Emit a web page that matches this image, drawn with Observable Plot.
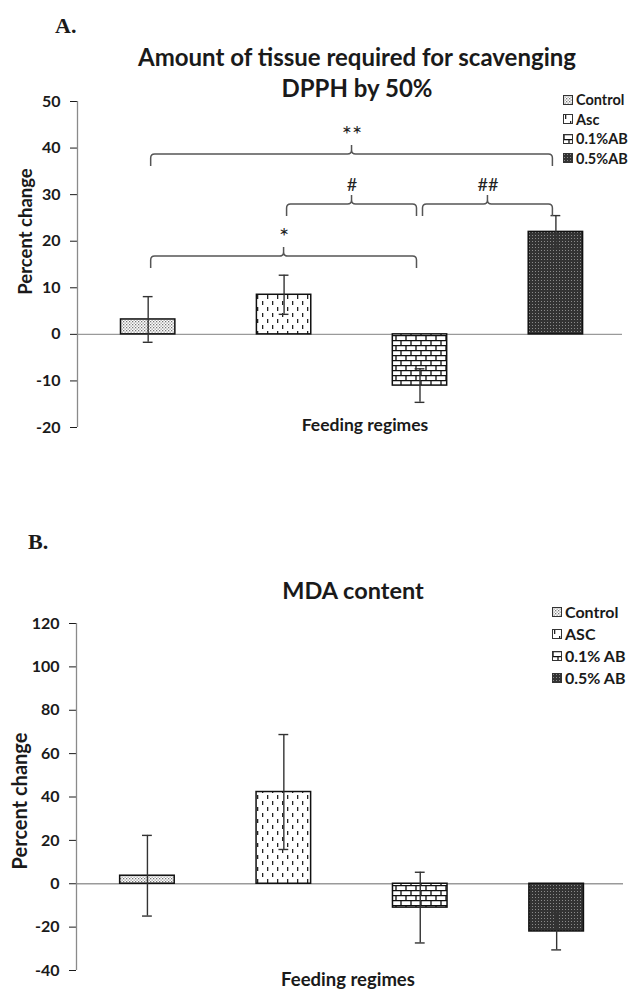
<!DOCTYPE html>
<html>
<head>
<meta charset="utf-8">
<script src="https://cdn.jsdelivr.net/npm/d3@7"></script>
<script src="https://cdn.jsdelivr.net/npm/@observablehq/plot@0.6"></script>
<style>
  html, body { margin: 0; padding: 0; background: #fff; }
  #wrap { position: relative; width: 634px; height: 989px; overflow: hidden; font-family: Lato, "Open Sans", sans-serif; color: #1a1a1a; }
  .abs { position: absolute; z-index: 2; }
  .panel { font-family: "Liberation Serif", serif; font-weight: bold; font-size: 22px; line-height: 22px; }
  .title { font-weight: bold; text-align: center; }
  .legend { font-weight: bold; }
  .legend .item { display: flex; align-items: center; }
  .legend svg { margin-right: 3px; flex: none; }
  .plotbox { position: absolute; left: 0; z-index: 1; }
</style>
</head>
<body>
<svg width="0" height="0" style="position:absolute">
  <defs>
    <pattern id="pCtrl" width="3" height="3" patternUnits="userSpaceOnUse">
      <rect width="3" height="3" fill="#fff"/>
      <rect x="0" y="0" width="1.3" height="1.3" fill="#777"/>
      <rect x="1.5" y="1.5" width="1.3" height="1.3" fill="#999"/>
    </pattern>
    <pattern id="pAsc" width="10" height="12" patternUnits="userSpaceOnUse">
      <rect width="10" height="12" fill="#fff"/>
      <rect x="2" y="1" width="1.3" height="4" fill="#222"/>
      <rect x="7" y="7" width="1.3" height="4" fill="#222"/>
    </pattern>
    <pattern id="pBrick" width="10" height="10" patternUnits="userSpaceOnUse">
      <rect width="10" height="10" fill="#fff"/>
      <path d="M0 0.6H10M0 5.6H10M1 0V5.6M6 5.6V10" stroke="#111" stroke-width="1.3" fill="none"/>
    </pattern>
    <pattern id="pDark" width="3" height="3" patternUnits="userSpaceOnUse">
      <rect width="3" height="3" fill="#333"/>
      <rect x="1" y="1" width="1" height="1" fill="#8a8a8a"/>
    </pattern>
  </defs>
</svg>
<div id="wrap"></div>
<script>
// ---------- data ----------
const groupsA = ["Control", "Asc", "0.1%AB", "0.5%AB"];
const groupsB = ["Control", "ASC", "0.1% AB", "0.5% AB"];
const patterns = ["url(#pCtrl)", "url(#pAsc)", "url(#pBrick)", "url(#pDark)"];

const dpphMean = [3.2, 8.5, -11.0, 22.0];
const dpphErr  = [4.9, 4.2, 3.6, 3.5];
const dpphTicks = [-20, -10, 0, 10, 20, 30, 40, 50];

const mdaMean = [3.7, 42.3, -11.0, -22.0];
const mdaErr  = [18.6, 26.5, 16.3, 8.5];
const mdaTicks = [-40, -20, 0, 20, 40, 60, 80, 100, 120];

// significance brackets (indices of groups), label, level in y units
const compFrom  = [0, 1, 2, 0];
const compTo    = [3, 2, 3, 2];
const compLabel = ["**", "#", "##", "*"];
const compLevel = [38.6, 27.9, 27.9, 16.7];

const titleA = ["Amount of tissue required for scavenging", "DPPH by 50%"];
const titleB = "MDA content";
const yTitle = "Percent change";
const xTitle = "Feeding regimes";

// ---------- helpers ----------
const wrap = document.getElementById("wrap");
function addDiv(cls, css, html) {
  const d = document.createElement("div");
  d.className = "abs " + cls;
  Object.assign(d.style, css);
  d.innerHTML = html;
  wrap.appendChild(d);
  return d;
}
function legend(labels, left, top, gap, fs) {
  const items = labels.map((l, i) =>
    `<div class="item" style="height:${gap}px"><svg width="10" height="10"><rect x="0.5" y="0.5" width="9" height="9" fill="${patterns[i]}" stroke="#333" stroke-width="1"/></svg><span>${l}</span></div>`).join("");
  addDiv("legend", {left: left + "px", top: top + "px", fontSize: fs + "px", lineHeight: gap + "px"}, items);
}

function makeData(means, errs) {
  return means.map((m, i) => ({i, mean: m, err: errs[i], fill: patterns[i]}));
}

const xDomain = [-0.52, 3.49];
const halfBar = 0.2;
const capHalf = 0.036;

function bracketMark(comps) {
  return (index, scales) => {
    const x = scales.x, y = scales.y;
    const g = d3.create("svg:g").attr("fill", "none").attr("stroke", "#555").attr("stroke-width", 1.5);
    const r = 4, h = 12, t = 9, inset = 3;
    for (const c of comps) {
      const x1 = x(c.from) + inset, x2 = x(c.to) - inset, xm = (x(c.from) + x(c.to)) / 2, yl = y(c.level);
      const p = `M${x1},${yl + h}L${x1},${yl + r}Q${x1},${yl} ${x1 + r},${yl}L${xm - r},${yl}Q${xm},${yl} ${xm},${yl - r}L${xm},${yl - t}` +
                `M${xm},${yl - r}Q${xm},${yl} ${xm + r},${yl}L${x2 - r},${yl}Q${x2},${yl} ${x2},${yl + r}L${x2},${yl + h}`;
      g.append("path").attr("d", p);
    }
    return g.node();
  };
}

function panel({data, ticks, domain, top, height, marginTop, marginBottom, marginLeft, marginRight, comps, yTitleX, yTitleDy, yTitleFs, xTitleDx, xTitleDy, xTitleFs}) {
  const marks = [
    Plot.ruleY([0], {stroke: "#9a9a9a", strokeWidth: 1.3}),
    Plot.ruleX([xDomain[0]], {stroke: "#8a8a8a", strokeWidth: 1.3}),
    Plot.rectY(data, {x1: d => d.i - halfBar, x2: d => d.i + halfBar, y1: 0, y2: "mean", fill: "fill", stroke: "#111", strokeWidth: 1.5}),
    Plot.ruleX(data, {x: "i", y1: d => d.mean - d.err, y2: d => d.mean + d.err, stroke: "#333", strokeWidth: 1.4}),
    Plot.ruleY(data, {y: d => d.mean + d.err, x1: d => d.i - capHalf, x2: d => d.i + capHalf, stroke: "#333", strokeWidth: 1.4}),
    Plot.ruleY(data, {y: d => d.mean - d.err, x1: d => d.i - capHalf, x2: d => d.i + capHalf, stroke: "#333", strokeWidth: 1.4}),
    Plot.text([yTitle], {frameAnchor: "left", textAnchor: "middle", rotate: -90, dx: -marginLeft + yTitleX, dy: yTitleDy, fontSize: yTitleFs, fontWeight: "bold", fill: "#1a1a1a"}),
    Plot.text([xTitle], {frameAnchor: "bottom", textAnchor: "middle", dx: xTitleDx, dy: xTitleDy, fontSize: xTitleFs, fontWeight: "bold", fill: "#1a1a1a", lineAnchor: "middle"})
  ];
  if (comps) {
    marks.push(bracketMark(comps));
    marks.push(Plot.text(comps, {x: d => (d.from + d.to) / 2, y: "level", dy: -19, text: "label",
      fontSize: d => d.label.includes("#") ? 18 : 24, fontWeight: "normal", fill: "#222",
      fontFamily: d => d.label.includes("#") ? "Liberation Serif, serif" : "Lato, sans-serif"}));
  }
  const chart = Plot.plot({
    width: 634, height, marginTop, marginBottom, marginLeft, marginRight,
    style: {fontFamily: "Lato, sans-serif", fontSize: "16px", fontWeight: "bold", color: "#1a1a1a", background: "transparent", overflow: "visible"},
    x: {domain: xDomain, axis: null},
    y: {domain, ticks, tickSize: 7, tickPadding: 10, tickFormat: d => String(d), label: null},
    color: {type: "identity"},
    marks
  });
  const box = document.createElement("div");
  box.className = "plotbox";
  box.style.top = top + "px";
  box.appendChild(chart);
  wrap.appendChild(box);
}

// ---------- Panel A ----------
addDiv("panel", {left: "55px", top: "15px"}, "A.");
addDiv("title", {left: "57px", top: "41px", width: "600px", fontSize: "24px", lineHeight: "31px"}, titleA.join("<br>"));
legend(groupsA, 563, 90, 19.5, 14.5);

const compsA = compFrom.map((f, k) => ({from: f, to: compTo[k], label: compLabel[k], level: compLevel[k]}));
panel({data: makeData(dpphMean, dpphErr), ticks: dpphTicks, domain: [-20, 50], top: 0, height: 440,
  marginTop: 101, marginBottom: 13, marginLeft: 77, marginRight: 12, comps: compsA,
  yTitleX: 26, yTitleDy: -33, yTitleFs: 18.5, xTitleDx: 15, xTitleDy: -2, xTitleFs: 17.5});

// ---------- Panel B ----------
addDiv("panel", {left: "28px", top: "531px"}, "B.");
addDiv("title", {left: "53px", top: "575px", width: "600px", fontSize: "23.5px", lineHeight: "30px"}, titleB);
legend(groupsB, 552, 601, 22, 16);

panel({data: makeData(mdaMean, mdaErr), ticks: mdaTicks, domain: [-40, 120], top: 440, height: 549,
  marginTop: 183, marginBottom: 19, marginLeft: 76, marginRight: 11, comps: null,
  yTitleX: 20, yTitleDy: 4, yTitleFs: 20, xTitleDx: -2, xTitleDy: 10, xTitleFs: 18.5});
</script>
</body>
</html>
